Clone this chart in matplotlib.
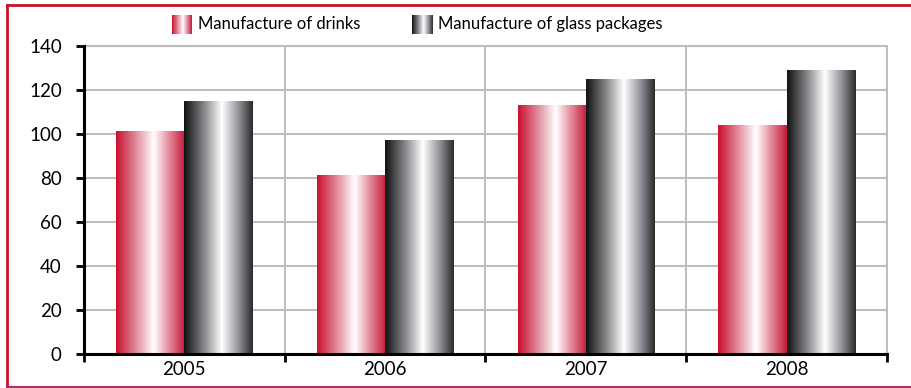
import numpy as np
import matplotlib.pyplot as plt
from matplotlib.colors import LinearSegmentedColormap
from matplotlib.lines import Line2D

years = ["2005", "2006", "2007", "2008"]
series = ["Manufacture of drinks", "Manufacture of glass packages"]
drinks = [101, 81, 113, 104]
glass = [115, 97, 125, 129]

plt.rcParams['font.family'] = ['Lato', 'DejaVu Sans']

# horizontal "metallic" gradients for the two series
red_cm = LinearSegmentedColormap.from_list(
    "red_sheen", [(0, "#c8102e"), (0.3, "#e390a0"), (0.55, "#ffffff"),
                  (0.8, "#e07c90"), (1, "#c41a3c")])
grey_cm = LinearSegmentedColormap.from_list(
    "grey_sheen", [(0, "#111111"), (0.3, "#8a8a8e"), (0.55, "#ffffff"),
                   (0.8, "#8e9096"), (1, "#2a2a2a")])
grad = np.linspace(0, 1, 256).reshape(1, -1)

fig = plt.figure(figsize=(9.12, 3.88), dpi=100)
ax = fig.add_axes([84 / 912, 34 / 388, 803 / 912, 308 / 388])

x = np.arange(len(years))
w = 0.34
for vals, off, cm in [(drinks, -w / 2, red_cm), (glass, w / 2, grey_cm)]:
    bars = ax.bar(x + off, vals, w, color="none", zorder=3)
    for b in bars:
        x0, y0 = b.get_x(), b.get_y()
        ax.imshow(grad, cmap=cm, aspect="auto", zorder=3,
                  extent=(x0, x0 + b.get_width(), y0, y0 + b.get_height()))

ax.set_xlim(-0.5, len(years) - 0.5)
ax.set_ylim(0, 140)
ax.set_yticks(range(0, 141, 20))
ax.set_xticks(x)
ax.set_xticklabels(years)
ax.set_xticks(np.arange(len(years) + 1) - 0.5, minor=True)
ax.tick_params(axis="x", which="major", length=0, pad=5)
ax.tick_params(axis="x", which="minor", length=6, width=2, direction="out")
ax.tick_params(axis="y", length=6, width=2, pad=10)
ax.tick_params(axis="both", which="both", labelsize=13.5)
ax.grid(axis="y", color="#bdbdbd", lw=1.5, zorder=1)
ax.grid(axis="x", which="minor", color="#bdbdbd", lw=1.5, zorder=1)
for s in ["left", "bottom"]:
    ax.spines[s].set_linewidth(2.2)
    ax.spines[s].set_zorder(5)
for s in ["top", "right"]:
    ax.spines[s].set_color("#bdbdbd")
    ax.spines[s].set_linewidth(1.5)

# legend with gradient swatches
for cm, lx, label in [(red_cm, 172, series[0]), (grey_cm, 412, series[1])]:
    sw = fig.add_axes([lx / 912, (388 - 34) / 388, 20 / 912, 19 / 388])
    sw.imshow(grad, cmap=cm, aspect="auto")
    sw.set_axis_off()
    fig.text((lx + 26) / 912, (388 - 24) / 388, label, fontsize=12,
             va="center", ha="left")

# red frame around the figure
frame = dict(color="#c8102e", lw=2, transform=fig.transFigure)
fig.add_artist(Line2D([7 / 912, 912 / 912], [1 - 4.5 / 388] * 2, **frame))
fig.add_artist(Line2D([7 / 912] * 2, [1 / 388, 1 - 4.5 / 388], **frame))
fig.add_artist(Line2D([7 / 912, 912 / 912], [1 / 388] * 2,
                      color="#b03060", lw=1.5, transform=fig.transFigure))

fig.savefig("out.png", dpi=100)
